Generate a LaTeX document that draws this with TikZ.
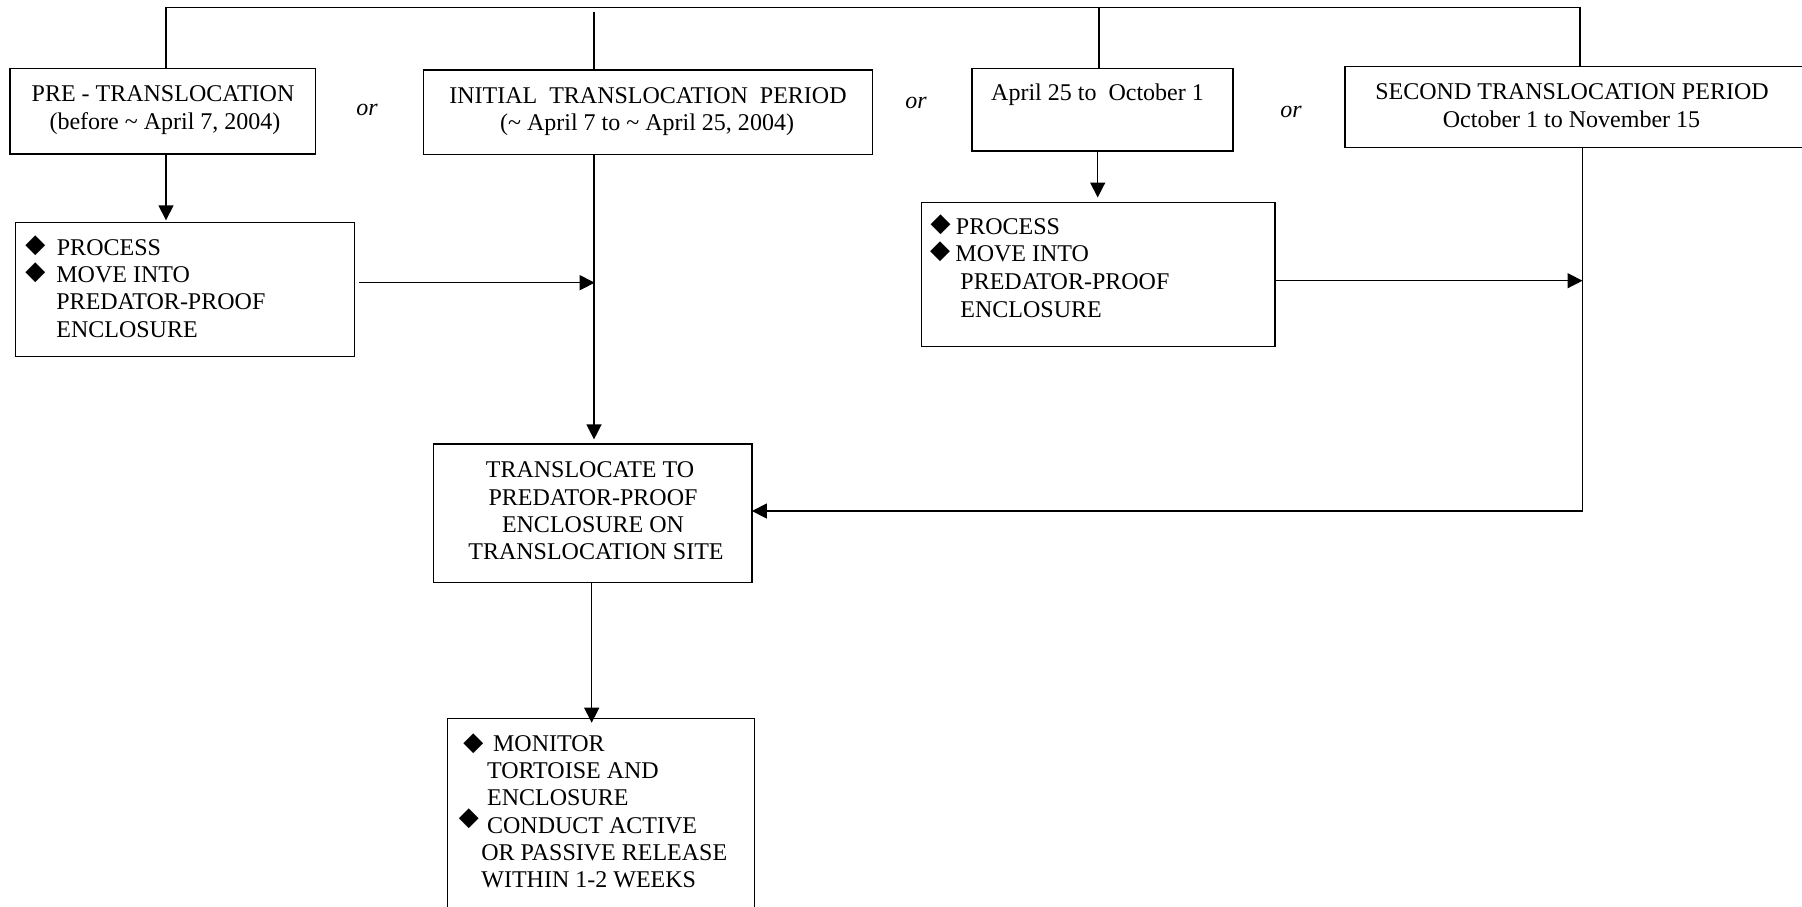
\documentclass[tikz,border=0pt]{standalone}
\usepackage{fontspec}
\setmainfont{Liberation Serif}
\newfontfamily\symfont{DejaVu Sans}
\usetikzlibrary{fit,arrows.meta}
\tikzset{
  frame/.style={draw, line width=0.7pt, inner sep=0pt, outer sep=0pt},
  wire/.style={line width=0.7pt},
  flow/.style={wire, -{Triangle[length=7.5pt,width=7.5pt]}},
  txt/.style={inner sep=0pt, font=\fontsize{12}{13.5}\selectfont},
  lbl/.style={txt, anchor=base},
  lft/.style={txt, anchor=base west},
  orlbl/.style={inner sep=0pt, font=\fontsize{12}{13.5}\selectfont\itshape, anchor=base},
  bullet/.style={inner sep=0pt, font=\fontsize{13}{14}\symfont},
}
\begin{document}
\begin{tikzpicture}[x=0.5pt,y=-0.5pt]
\useasboundingbox (0,0) rectangle (1802,906);
\clip (0,0) rectangle (1802,906);

% ---- period boxes (top row)
\node[frame, fit={(9.8,68.3) (315.7,154)}] (pre) {};
\node[frame, fit={(423.7,70) (872.6,154.3)}] (ini) {};
\node[frame, fit={(972,68.3) (1233,151)}] (apr) {};
\node[frame, fit={(1345,66.7) (1806,147.7)}] (sec) {};

\node[lbl] (preA) at (163,101) {PRE - TRANSLOCATION};
\node[lbl] (preB) at (165,129.5) {(before \textasciitilde{} April 7, 2004)};
\node[lbl] (iniA) at (648,103) {INITIAL\ \ TRANSLOCATION\ \ PERIOD};
\node[lbl] (iniB) at (647,130) {(\textasciitilde{} April 7 to \textasciitilde{} April 25, 2004)};
\node[lbl] (aprA) at (1097.5,100.7) {April 25 to\ \ October 1};
\node[lbl] (secA) at (1572,99.7) {SECOND TRANSLOCATION PERIOD};
\node[lbl] (secB) at (1571.5,127.5) {October 1 to November 15};

\node[orlbl] (or1) at (367,115) {or};
\node[orlbl] (or2) at (916,108) {or};
\node[orlbl] (or3) at (1291,117) {or};

% ---- processing boxes
\node[frame, fit={(15.6,222.3) (354.2,356.7)}] (procL) {};
\node[bullet] (procLd1) at (35.3,246) {◆};
\node[bullet] (procLd2) at (35.3,273) {◆};
\node[lft] (procL1) at (56.5,255) {PROCESS};
\node[lft] (procL2) at (56,282) {MOVE INTO};
\node[lft] (procL3) at (56,309.5) {PREDATOR-PROOF};
\node[lft] (procL4) at (56,337) {ENCLOSURE};

\node[frame, fit={(921.7,202.5) (1275,346.7)}] (procR) {};
\node[bullet] (procRd1) at (940.5,225) {◆};
\node[bullet] (procRd2) at (940,251.5) {◆};
\node[lft] (procR1) at (955.5,234.5) {PROCESS};
\node[lft] (procR2) at (955,261.5) {MOVE INTO};
\node[lft] (procR3) at (960,289) {PREDATOR-PROOF};
\node[lft] (procR4) at (960,317) {ENCLOSURE};

% ---- translocation box
\node[frame, fit={(433.7,444) (751.9,582.3)}] (transl) {};
\node[lbl] (translA) at (590,477.3) {TRANSLOCATE TO};
\node[lbl] (translB) at (593,505) {PREDATOR-PROOF};
\node[lbl] (translC) at (593,532.3) {ENCLOSURE ON};
\node[lbl] (translD) at (596,559.3) {TRANSLOCATION SITE};

% ---- monitoring box (runs off the lower edge)
\node[frame, fit={(447.6,718.3) (754.2,940)}] (mon) {};
\node[bullet] (mond1) at (473.3,744) {◆};
\node[bullet] (mond2) at (468.8,819) {◆};
\node[lft] (mon1) at (492.7,751.7) {MONITOR};
\node[lft] (mon2) at (486.7,778) {TORTOISE AND};
\node[lft] (mon3) at (486.7,805) {ENCLOSURE};
\node[lft] (mon4) at (486.7,833) {CONDUCT ACTIVE};
\node[lft] (mon5) at (481,860.5) {OR PASSIVE RELEASE};
\node[lft] (mon6) at (481,887) {WITHIN 1-2 WEEKS};

% ---- connectors
\coordinate (busL) at (166,7.5);
\coordinate (busR) at (1580,7.5);
\coordinate (drop2) at (594,11.5);
\coordinate (drop3) at (1099,7.5);
\draw[wire] (pre.north -| busL) -- (busL) -- (busR) -- (busR |- sec.north);
\draw[wire] (drop2) -- (drop2 |- ini.north);
\draw[wire] (drop3) -- (drop3 |- apr.north);

\draw[flow, shorten >=1pt] (busL |- pre.south) -- (busL |- procL.north);

\coordinate (trunk) at (594,0);
\draw[flow, shorten >=2.3pt] (trunk |- ini.south) -- (trunk |- transl.north);
\coordinate (j1) at (594.7,282.7);
\draw[flow, shorten <=2.3pt] (procL.east |- j1) -- (j1);

\coordinate (c3) at (1097.7,0);
\draw[flow, shorten >=2.5pt] (c3 |- apr.south) -- (c3 |- procR.north);
\coordinate (j2) at (1582.5,280.7);
\draw[flow] (procR.east |- j2) -- (j2);
\coordinate (j3) at (1582.5,511);
\draw[flow] (j2 |- sec.south) -- (j3) -- (transl.east |- j3);

\coordinate (c7) at (591.7,0);
\draw[flow, shorten >=-2.2pt] (c7 |- transl.south) -- (c7 |- mon.north);
\end{tikzpicture}
\end{document}
